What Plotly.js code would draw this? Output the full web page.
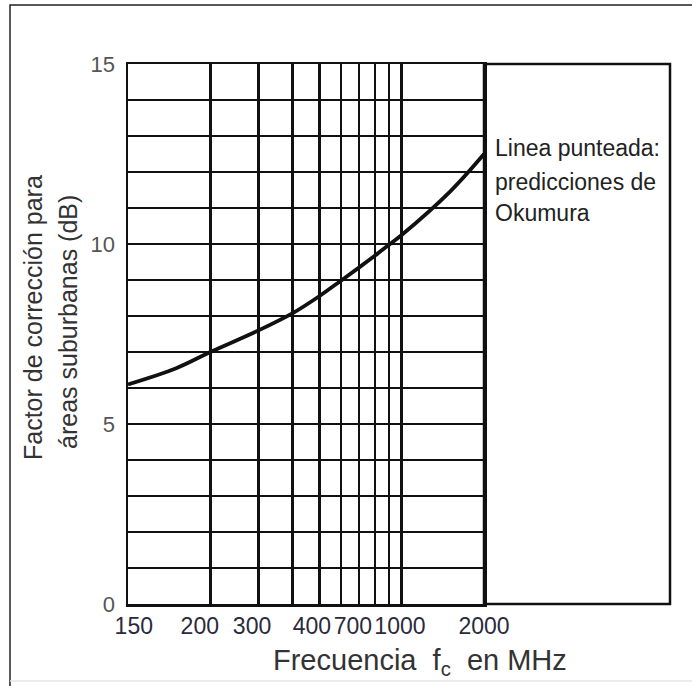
<!DOCTYPE html>
<html>
<head>
<meta charset="utf-8">
<script src="https://cdn.plot.ly/plotly-3.0.1.min.js"></script>
<style>html,body{margin:0;padding:0;background:#fff;}#chart{width:692px;height:686px;}</style>
</head>
<body>
<div id="chart"></div>
<script>
// Curve (frequency in MHz, correction factor in dB)
const freqMHz = [100, 150, 200, 300, 400, 500, 600, 700, 800, 900, 1000, 1500, 2000];
const correctionDb = [6.1, 6.55, 7.0, 7.6, 8.08, 8.55, 8.98, 9.35, 9.68, 9.98, 10.25, 11.45, 12.5];

// Axis labels as printed on the original
const xTickLabels = ["150", "200", "300", "400", "700", "1000", "2000"];
const yTickLabels = ["0", "5", "10", "15"];
const xGridFreqs = [200, 300, 400, 500, 600, 700, 800, 900, 1000];
const noteLines = ["Linea punteada:", "predicciones de", "Okumura"];

const FONT = "Liberation Sans, Arial, sans-serif";
const W = 692, H = 686;
const L = 128, R = 484, T = 64, B = 604;
const px = x => (x - L) / (R - L);
const py = y => (B - y) / (B - T);

const trace = {
  x: freqMHz, y: correctionDb, type: "scatter", mode: "lines",
  line: {color: "#111", width: 3.8, shape: "spline", smoothing: 1},
  hoverinfo: "x+y", showlegend: false
};

const annotations = [
  {text: "Factor de corrección para", x: px(33), y: py(318), xref: "paper", yref: "paper",
   textangle: -90, showarrow: false, xanchor: "center", yanchor: "middle",
   font: {family: FONT, size: 25, color: "#333"}},
  {text: "áreas suburbanas (dB)", x: px(68), y: py(322), xref: "paper", yref: "paper",
   textangle: -90, showarrow: false, xanchor: "center", yanchor: "middle",
   font: {family: FONT, size: 25, color: "#333"}},
  {text: "Frecuencia  f<sub>c</sub>  en MHz", x: px(420), y: py(662), xref: "paper", yref: "paper",
   showarrow: false, xanchor: "center", yanchor: "middle",
   font: {family: FONT, size: 29, color: "#333"}}
];
const noteY = [148, 182, 213];
noteLines.forEach((t, i) => annotations.push({
  text: t, x: px(493), y: py(noteY[i]), xref: "paper", yref: "paper",
  showarrow: false, xanchor: "left", yanchor: "middle",
  font: {family: FONT, size: 23, color: "#222"}
}));

const shapes = [
  // extension of the frame to the right of the grid
  {type: "rect", xref: "paper", yref: "paper", x0: 1, x1: px(670), y0: 0, y1: 1,
   line: {color: "#111", width: 2.5}},
  // outer border of the figure
  {type: "path", xref: "paper", yref: "paper",
   path: `M ${px(10)} ${py(700)} L ${px(10)} ${py(5)} L ${px(700)} ${py(5)}`,
   line: {color: "#222", width: 1.5}},
  {type: "line", xref: "paper", yref: "paper", x0: px(10), x1: px(700), y0: py(681), y1: py(681),
   line: {color: "#e4e4e4", width: 1.5}}
];

const layout = {
  width: W, height: H,
  margin: {l: L, r: W - R, t: T, b: H - B, pad: 0},
  paper_bgcolor: "#fff", plot_bgcolor: "#fff",
  font: {family: FONT, color: "#333"},
  xaxis: {
    type: "log", range: [Math.log10(100), Math.log10(2000)],
    tickmode: "array", tickvals: [105, 183, 284, 470, 664, 986, 2000], ticktext: xTickLabels,
    showgrid: false, zeroline: false, ticks: "", ticklabelstandoff: 0,
    tickfont: {family: FONT, size: 23, color: "#2a2a3a"},
    showline: true, mirror: true, linecolor: "#111", linewidth: 2.5,
    minor: {tickmode: "array", tickvals: xGridFreqs, showgrid: true, gridcolor: "#111", gridwidth: 2.5, ticks: ""}
  },
  yaxis: {
    range: [0, 15], tickmode: "array", tickvals: [0, 5, 10, 15], ticktext: yTickLabels,
    showgrid: true, gridcolor: "#111", gridwidth: 2.5, zeroline: false, ticks: "",
    ticklabelstandoff: 6,
    tickfont: {family: FONT, size: 22, color: "#555"},
    showline: true, mirror: true, linecolor: "#111", linewidth: 2.5,
    minor: {dtick: 1, showgrid: true, gridcolor: "#111", gridwidth: 2.5, ticks: ""}
  },
  annotations: annotations,
  shapes: shapes,
  showlegend: false
};

Plotly.newPlot("chart", [trace], layout, {displayModeBar: false, staticPlot: true});
</script>
</body>
</html>
